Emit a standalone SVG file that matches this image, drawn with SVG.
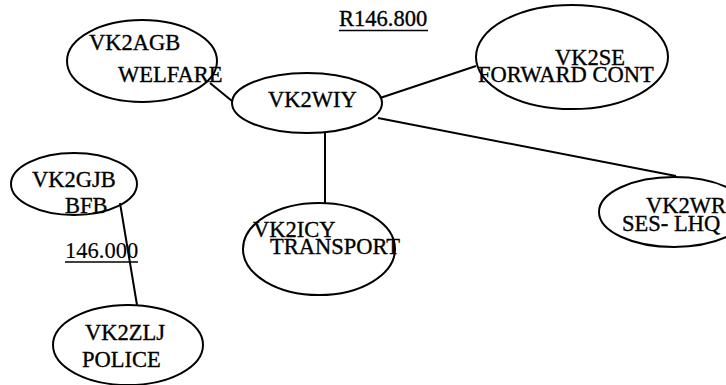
<svg xmlns="http://www.w3.org/2000/svg" width="726" height="385" viewBox="0 0 726 385">
  <rect width="726" height="385" fill="#fff"/>

  <!-- links between stations -->
  <g id="connectors" stroke="#000" stroke-width="2">
    <line x1="210" y1="83" x2="232" y2="101"/>
    <line x1="380" y1="98" x2="476" y2="66"/>
    <line x1="378" y1="118" x2="676" y2="176"/>
    <line x1="325" y1="132" x2="325" y2="203"/>
    <line x1="120" y1="203" x2="137" y2="305"/>
  </g>

  <g id="vk2agb">
    <ellipse cx="142" cy="61" rx="75" ry="41" fill="none" stroke="#000" stroke-width="2"/>
    <text x="89" y="50" font-family="'Liberation Serif', serif" font-size="22.5" stroke="#000" stroke-width="0.35">VK2AGB</text>
    <text x="118" y="82" font-family="'Liberation Serif', serif" font-size="22.5" stroke="#000" stroke-width="0.35">WELFARE</text>
  </g>

  <g id="vk2wiy">
    <ellipse cx="307" cy="103" rx="75" ry="30" fill="none" stroke="#000" stroke-width="2"/>
    <text x="268" y="107" font-family="'Liberation Serif', serif" font-size="22.5" stroke="#000" stroke-width="0.35">VK2WIY</text>
  </g>

  <g id="vk2se">
    <ellipse cx="572" cy="57" rx="96" ry="52" fill="none" stroke="#000" stroke-width="2"/>
    <text x="555" y="65" font-family="'Liberation Serif', serif" font-size="22.5" stroke="#000" stroke-width="0.35">VK2SE</text>
    <text x="478" y="82" font-family="'Liberation Serif', serif" font-size="22.5" stroke="#000" stroke-width="0.35">FORWARD CONT</text>
  </g>

  <g id="vk2wr">
    <ellipse cx="674" cy="212" rx="75" ry="35" fill="none" stroke="#000" stroke-width="2"/>
    <text x="646" y="213" font-family="'Liberation Serif', serif" font-size="22.5" stroke="#000" stroke-width="0.35">VK2WR</text>
    <text x="622" y="231" font-family="'Liberation Serif', serif" font-size="22.5" stroke="#000" stroke-width="0.35">SES- LHQ</text>
  </g>

  <g id="vk2icy">
    <ellipse cx="319" cy="249" rx="76" ry="46" fill="none" stroke="#000" stroke-width="2"/>
    <text x="253" y="237" font-family="'Liberation Serif', serif" font-size="22.5" stroke="#000" stroke-width="0.35">VK2ICY</text>
    <text x="270" y="254" font-family="'Liberation Serif', serif" font-size="22.5" stroke="#000" stroke-width="0.35">TRANSPORT</text>
  </g>

  <g id="vk2gjb">
    <ellipse cx="74" cy="184" rx="63" ry="31" fill="none" stroke="#000" stroke-width="2"/>
    <text x="32" y="187" font-family="'Liberation Serif', serif" font-size="22.5" stroke="#000" stroke-width="0.35">VK2GJB</text>
    <text x="65" y="213" font-family="'Liberation Serif', serif" font-size="22.5" stroke="#000" stroke-width="0.35">BFB</text>
  </g>

  <g id="vk2zlj">
    <ellipse cx="128" cy="345" rx="75" ry="40" fill="none" stroke="#000" stroke-width="2"/>
    <text x="85" y="340" font-family="'Liberation Serif', serif" font-size="22.5" stroke="#000" stroke-width="0.35">VK2ZLJ</text>
    <text x="82" y="367" font-family="'Liberation Serif', serif" font-size="22.5" stroke="#000" stroke-width="0.35">POLICE</text>
  </g>

  <!-- frequency labels, underlined -->
  <g id="freq-r146800">
    <text x="339" y="26" font-family="'Liberation Serif', serif" font-size="22.5" stroke="#000" stroke-width="0.35">R146.800</text>
    <line x1="339" y1="30.5" x2="428" y2="30.5" stroke="#000" stroke-width="1.6"/>
  </g>
  <g id="freq-146000">
    <text x="65" y="258" font-family="'Liberation Serif', serif" font-size="22.5" stroke="#000" stroke-width="0.15">146.000</text>
    <line x1="65" y1="262" x2="138" y2="262" stroke="#000" stroke-width="1.6"/>
  </g>
</svg>
